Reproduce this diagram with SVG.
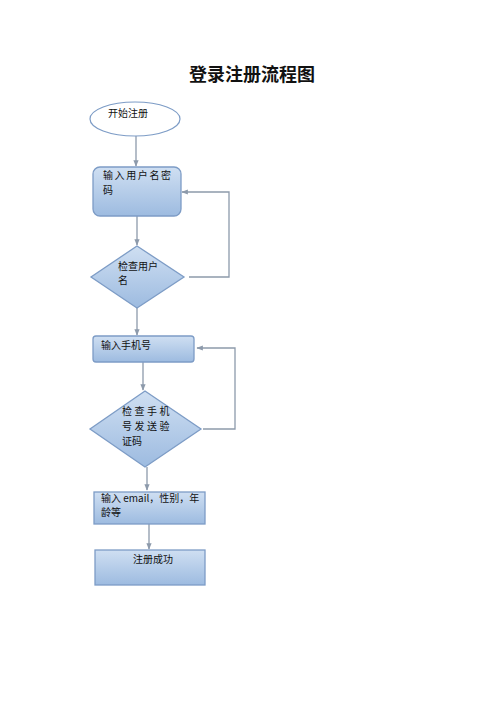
<svg xmlns="http://www.w3.org/2000/svg" width="500" height="707" viewBox="0 0 500 707">
<defs>
<linearGradient id="g" x1="0" y1="0" x2="0" y2="1">
<stop offset="0" stop-color="#cfdff2"/>
<stop offset="1" stop-color="#9dbbe0"/>
</linearGradient>
<marker id="a" viewBox="0 0 10 10" refX="9" refY="5" markerWidth="5" markerHeight="5" orient="auto">
<path d="M0,1 L10,5 L0,9 z" fill="#8d9aab"/>
</marker>
<style>
.n{fill:url(#g);stroke:#7d9cc6;stroke-width:1.3}
.t{font-family:"Noto Sans CJK SC","Liberation Sans",sans-serif;font-size:10px;fill:#111}
.c{fill:none;stroke:#8d9aab;stroke-width:1.3;marker-end:url(#a)}
</style>
</defs>
<rect width="500" height="707" fill="#fff"/>
<text x="252" y="81" text-anchor="middle" font-family="Noto Sans CJK SC,sans-serif" font-size="18" font-weight="bold" fill="#111">登录注册流程图</text>
<g id="connectors">
<path class="c" d="M136,136 V166"/>
<path class="c" d="M137,216 V245"/>
<path class="c" d="M189,277 H229 V192 H182"/>
<path class="c" d="M137,308 V335"/>
<path class="c" d="M143,362 V390"/>
<path class="c" d="M203,429 H235 V348 H197"/>
<path class="c" d="M147,467 V490"/>
<path class="c" d="M149,524 V549"/>
</g>
<g id="start">
<ellipse cx="135" cy="119" rx="45" ry="17" fill="#fff" stroke="#7d9cc6" stroke-width="1.2"/>
<text class="t" x="108" y="117">开始注册</text>
</g>
<g id="input-user">
<rect class="n" x="93" y="167" width="88" height="49" rx="7"/>
<text class="t"><tspan x="103" y="179" letter-spacing="1.6">输入用户名密</tspan><tspan x="103" y="193.7">码</tspan></text>
</g>
<g id="check-user">
<polygon class="n" points="137,246 184,277 137,308 91,277"/>
<text class="t"><tspan x="118" y="269.5">检查用户</tspan><tspan x="118" y="284.2">名</tspan></text>
</g>
<g id="input-phone">
<rect class="n" x="93" y="336" width="101" height="26" rx="3"/>
<text class="t" x="101" y="349">输入手机号</text>
</g>
<g id="check-phone">
<polygon class="n" points="145,391 201,429 145,467 90,429"/>
<text class="t"><tspan x="122" y="415.2" letter-spacing="2.5">检查手机</tspan><tspan x="122" y="429.9" letter-spacing="2.5">号发送验</tspan><tspan x="122" y="444.6">证码</tspan></text>
</g>
<g id="input-info">
<rect class="n" x="94" y="492" width="111" height="32"/>
<text class="t"><tspan x="101" y="501.5">输入 email，性别，年</tspan><tspan x="101" y="516.2">龄等</tspan></text>
</g>
<g id="success">
<rect class="n" x="95" y="550" width="110" height="35"/>
<text class="t" x="153" y="563" text-anchor="middle">注册成功</text>
</g>
</svg>
